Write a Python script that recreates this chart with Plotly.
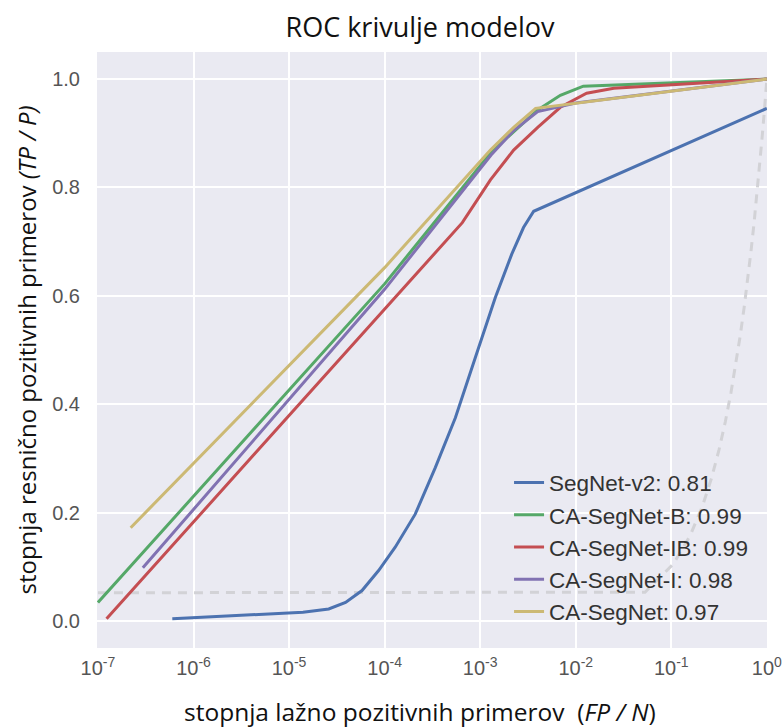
import plotly.graph_objects as go

# ---- data ----
segnet_v2_fpr = [6.0e-7, 1.4e-5, 2.6e-5, 3.9e-5, 5.8e-5, 8.65e-5, 1.29e-4, 2.09e-4, 3.39e-4,
                 5.5e-4, 8.9e-4, 1.44e-3, 2.14e-3, 2.84e-3, 3.63e-3, 1.0]
segnet_v2_tpr = [0.004, 0.016, 0.022, 0.034, 0.056, 0.093, 0.136, 0.197, 0.283,
                 0.375, 0.486, 0.597, 0.677, 0.726, 0.756, 0.946]

ca_b_fpr = [1.0e-7, 1.0e-4, 1.3e-3, 4.0e-3, 6.9e-3, 1.2e-2, 1.0]
ca_b_tpr = [0.034, 0.622, 0.865, 0.943, 0.970, 0.987, 1.0]

ca_ib_fpr = [1.23e-7, 9.0e-5, 6.5e-4, 1.28e-3, 2.24e-3, 4.0e-3, 6.9e-3, 1.3e-2, 2.5e-2, 1.0]
ca_ib_tpr = [0.004, 0.565, 0.735, 0.814, 0.869, 0.911, 0.948, 0.974, 0.983, 1.0]

ca_i_fpr = [2.95e-7, 1.0e-4, 1.3e-3, 2.24e-3, 4.0e-3, 1.0e-2, 1.0]
ca_i_tpr = [0.098, 0.612, 0.860, 0.905, 0.940, 0.956, 1.0]

ca_fpr = [2.2e-7, 1.0e-4, 1.28e-3, 2.24e-3, 3.8e-3, 1.0]
ca_tpr = [0.172, 0.652, 0.869, 0.911, 0.946, 1.0]

chance_fpr = [1.0e-7, 0.053, 0.105, 0.158, 0.211, 0.263, 0.316, 0.368, 0.421, 0.474, 0.526,
              0.579, 0.632, 0.684, 0.737, 0.789, 0.842, 0.895, 0.947, 1.0]
chance_tpr = [0.052, 0.053, 0.105, 0.158, 0.211, 0.263, 0.316, 0.368, 0.421, 0.474, 0.526,
              0.579, 0.632, 0.684, 0.737, 0.789, 0.842, 0.895, 0.947, 1.0]

model_names = ["SegNet-v2: 0.81", "CA-SegNet-B: 0.99", "CA-SegNet-IB: 0.99",
               "CA-SegNet-I: 0.98", "CA-SegNet: 0.97"]
model_colors = ["#4C72B0", "#55A868", "#C44E52", "#8172B2", "#CCB974"]
series = [(segnet_v2_fpr, segnet_v2_tpr), (ca_b_fpr, ca_b_tpr), (ca_ib_fpr, ca_ib_tpr),
          (ca_i_fpr, ca_i_tpr), (ca_fpr, ca_tpr)]

x_tick_vals = [1e-7, 1e-6, 1e-5, 1e-4, 1e-3, 1e-2, 1e-1, 1e0]
x_tick_text = ["10<sup>-7</sup>", "10<sup>-6</sup>", "10<sup>-5</sup>", "10<sup>-4</sup>",
               "10<sup>-3</sup>", "10<sup>-2</sup>", "10<sup>-1</sup>", "10<sup>0</sup>"]
y_tick_vals = [0.0, 0.2, 0.4, 0.6, 0.8, 1.0]

fig = go.Figure()

fig.add_trace(go.Scatter(
    x=chance_fpr, y=chance_tpr, mode="lines", showlegend=False, hoverinfo="skip",
    line=dict(color="#d2d2d6", width=3, dash="9px,7px")))

for i, ((fx, ty), name, col) in enumerate(zip(series, model_names, model_colors)):
    fig.add_trace(go.Scatter(
        x=fx, y=ty, mode="lines", name=name, legendgroup=f"g{i}",
        line=dict(color=col, width=3)))

label_font = "Open Sans, Lato, sans-serif"
tick_font = "Liberation Sans, Arial, sans-serif"

fig.update_layout(
    width=782, height=727,
    margin=dict(l=97, r=15, t=52, b=79),
    paper_bgcolor="white",
    plot_bgcolor="#EAEAF2",
    title=dict(text="ROC krivulje modelov", x=420 / 782, xanchor="center",
               y=1 - 28 / 727, yanchor="middle",
               font=dict(family=label_font, size=27, color="#111111")),
    xaxis=dict(type="log", range=[-7.01, 0.0015], tickvals=x_tick_vals, ticktext=x_tick_text,
               showgrid=True, gridcolor="white", gridwidth=1.6, zeroline=False,
               showline=False, ticks="", ticklabelstandoff=6, automargin=False,
               ticklabeloverflow="allow",
               tickfont=dict(family=tick_font, size=20, color="#555555")),
    yaxis=dict(range=[-0.05, 1.05], tickvals=y_tick_vals, tickformat=".1f",
               showgrid=True, gridcolor="white", gridwidth=1.6, zeroline=False,
               showline=False, ticks="", ticklabelstandoff=16, automargin=False,
               tickfont=dict(family=tick_font, size=20, color="#555555"),
               title=dict(text="stopnja resnično pozitivnih primerov <i>(TP / P)</i>",
                          font=dict(family=label_font, size=24, color="#111111"),
                          standoff=8)),
    legend=dict(x=0.615, xanchor="left", y=0.313, yanchor="top",
                bgcolor="rgba(0,0,0,0)", borderwidth=0, tracegroupgap=0,
                font=dict(family=tick_font, size=22.5, color="#333333")),
    annotations=[dict(text="stopnja lažno pozitivnih primerov  (<i>FP / N</i>)",
                      xref="paper", yref="paper", x=(420 - 97) / 670, y=(648 - 711) / 596,
                      xanchor="center", yanchor="middle", showarrow=False,
                      font=dict(family=label_font, size=24.5, color="#111111"))],
)

fig.write_html("out.html", config={"displayModeBar": False},
               post_script="document.body.style.margin='0px';document.body.style.overflow='hidden';")
